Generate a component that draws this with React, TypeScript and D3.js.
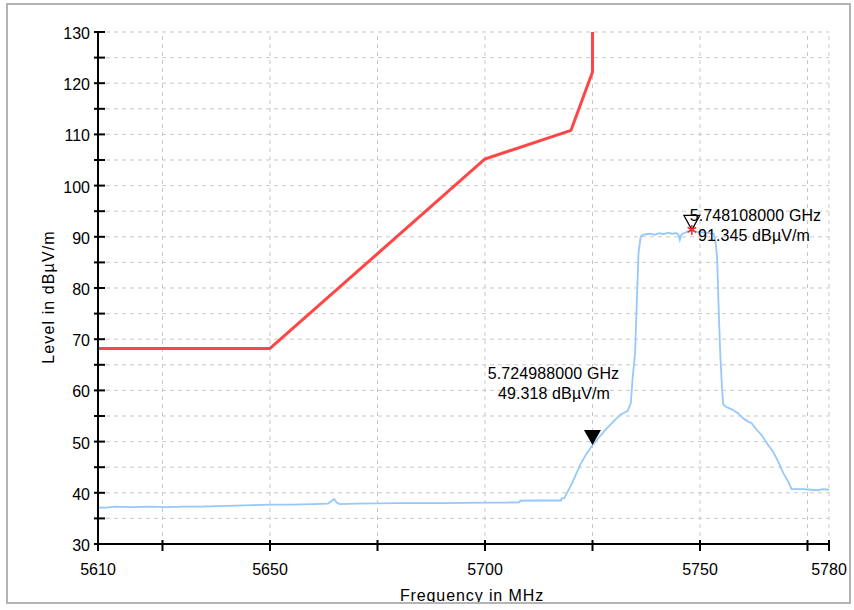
import React from 'react';
import * as d3 from 'd3';

const xTicks = [5610, 5625, 5650, 5675, 5700, 5725, 5750, 5775, 5780];
const xTickLabels = [5610, 5650, 5700, 5750, 5780];
const yTicks = [30, 35, 40, 45, 50, 55, 60, 65, 70, 75, 80, 85, 90, 95, 100, 105, 110, 115, 120, 125, 130];
const yTickLabels = [30, 40, 50, 60, 70, 80, 90, 100, 110, 120, 130];

const limitFreq = [5610, 5650, 5700, 5720, 5725, 5725];
const limitLevel = [68.2, 68.2, 105.2, 110.8, 122.2, 130];

const traceFreq = [
  5610, 5612, 5614, 5618, 5622, 5626, 5630, 5634, 5638, 5642, 5646, 5650, 5655, 5660,
  5663.5, 5664.3, 5664.9, 5665.5, 5666.2, 5670, 5675, 5680, 5685, 5690, 5695, 5700, 5705,
  5708, 5708.2, 5712, 5715, 5717.7, 5717.8, 5718.4, 5720.2, 5722.1, 5723.5, 5724.99, 5726.5,
  5728, 5729.5, 5731.4, 5733.2, 5733.9, 5734.3, 5734.9, 5735.3, 5735.7, 5736.2, 5736.7,
  5737.5, 5738.5, 5739.5, 5740.5, 5741.5, 5742.5, 5743.5, 5744.5, 5745.0, 5745.3, 5745.7,
  5746.5, 5747.3, 5748.1, 5749, 5750, 5751, 5752, 5753.2, 5753.7, 5754.0, 5754.3, 5754.7,
  5755.1, 5755.4, 5756, 5757.4, 5758.9, 5760.1, 5761, 5762, 5763.2, 5764.3, 5765.9, 5767,
  5768.2, 5769.4, 5770.5, 5771.3, 5774, 5776, 5777.5, 5778.5, 5780,
];
const traceLevel = [
  37.1, 37.1, 37.3, 37.2, 37.3, 37.2, 37.3, 37.3, 37.4, 37.5, 37.6, 37.7, 37.7, 37.8,
  37.9, 38.4, 38.8, 38.1, 37.8, 37.9, 37.95, 38.0, 38.0, 38.0, 38.05, 38.1, 38.1,
  38.15, 38.45, 38.5, 38.5, 38.5, 38.9, 38.9, 41.8, 45.4, 47.5, 49.3, 50.8,
  52.3, 53.6, 55.2, 56.0, 57.5, 62, 67.3, 77, 86.8, 90.0, 90.4,
  90.5, 90.6, 90.4, 90.7, 90.5, 90.8, 90.6, 90.7, 90.4, 89.4, 90.5,
  90.8, 91.1, 91.35, 91.0, 90.8, 90.9, 90.7, 90.6, 88.5, 85.5, 77, 67.3,
  60.7, 57.3, 56.8, 56.3, 55.5, 54.5, 54.0, 53.6, 52.3, 51.3, 49.3, 48.0,
  46.1, 43.8, 42.2, 40.7, 40.7, 40.6, 40.5, 40.7, 40.6,
];

const markerFreq = [5724.988, 5748.108];
const markerLevel = [49.318, 91.345];
const markerLine1 = ['5.724988000 GHz', '5.748108000 GHz'];
const markerLine2 = ['49.318 dBµV/m', '91.345 dBµV/m'];

export default function App() {
  const W = 854;
  const H = 610;
  const x = d3.scaleLinear().domain([5610, 5780]).range([98, 829]);
  const y = d3.scaleLinear().domain([30, 130]).range([544, 32]);

  const line = d3
    .line<[number, number]>()
    .x((d) => x(d[0]))
    .y((d) => y(d[1]));

  const limitPath = line(limitFreq.map((f, i) => [f, limitLevel[i]]) as [number, number][]) || '';
  const tracePath = line(traceFreq.map((f, i) => [f, traceLevel[i]]) as [number, number][]) || '';
  const asterisk = d3.symbol(d3.symbolAsterisk, 70)() || '';

  const font = '"Liberation Sans", Arial, Helvetica, sans-serif';
  const [x0, x1] = x.range();
  const [y0, y1] = y.range();

  const m1x = x(markerFreq[0]);
  const m1y = y(markerLevel[0]);
  const m2x = x(markerFreq[1]);
  const m2y = y(markerLevel[1]);

  return (
    <svg
      width={W}
      height={H}
      style={{ position: 'absolute', left: 0, top: 0, display: 'block' }}
      fontFamily={font}
    >
      <rect x={0} y={0} width={W} height={H} fill="#ffffff" />
      <defs>
        <clipPath id="plot">
          <rect x={x0} y={y1 - 1} width={x1 - x0} height={y0 - y1 + 1} />
        </clipPath>
      </defs>
      {/* grid */}
      <g stroke="#c8c8c8" strokeWidth={1} strokeDasharray="4,4" fill="none">
        {xTicks.map((t) => (
          <line key={'gx' + t} x1={x(t)} x2={x(t)} y1={y0} y2={y1} />
        ))}
        {yTicks.map((t) => (
          <line key={'gy' + t} x1={x0} x2={x1} y1={y(t)} y2={y(t)} />
        ))}
      </g>
      {/* data */}
      <g clipPath="url(#plot)">
        <path d={tracePath} fill="none" stroke="#96c8fa" strokeWidth={1.8} />
        <path d={limitPath} fill="none" stroke="#ff4646" strokeWidth={3} strokeLinejoin="round" />
      </g>
      {/* axes */}
      <g stroke="#000" strokeWidth={2}>
        <line x1={x0} x2={x0} y1={y1} y2={y0 + 1} />
        <line x1={x0 - 1} x2={x1} y1={y0} y2={y0} />
        {yTicks.map((t) => (
          <line key={'ty' + t} x1={x0 - 4} x2={x0 + 7} y1={y(t)} y2={y(t)} />
        ))}
        {xTicks.map((t) => (
          <line key={'tx' + t} x1={x(t)} x2={x(t)} y1={y0 - 4} y2={y0 + 7} />
        ))}
      </g>
      <g fontSize={16} fill="#000">
        {yTickLabels.map((t) => (
          <text key={'ly' + t} x={x0 - 8} y={y(t) + 7} textAnchor="end">
            {t}
          </text>
        ))}
        {xTickLabels.map((t) => (
          <text key={'lx' + t} x={x(t)} y={575} textAnchor="middle">
            {t}
          </text>
        ))}
      </g>
      {/* axis titles */}
      <text
        x={472}
        y={601}
        textAnchor="middle"
        fontSize={16}
        letterSpacing={0.9}
        fill="#000"
      >
        Frequency in MHz
      </text>
      <text
        transform={`translate(53.5,297) rotate(-90)`}
        textAnchor="middle"
        fontSize={16}
        letterSpacing={1.1}
        fill="#000"
      >
        Level in dBµV/m
      </text>
      {/* markers */}
      <path
        d={`M${m1x},${m1y} L${m1x - 8.5},${m1y - 15} L${m1x + 8.5},${m1y - 15} Z`}
        fill="#000"
      />
      <path
        d={`M${m2x},${m2y} L${m2x - 8},${m2y - 14.5} L${m2x + 8},${m2y - 14.5} Z`}
        fill="none"
        stroke="#000"
        strokeWidth={1.2}
      />
      <path
        d={asterisk}
        transform={`translate(${m2x},${m2y})`}
        fill="none"
        stroke="#ff2020"
        strokeWidth={1.5}
      />
      <g fontSize={16} fill="#000" letterSpacing={0.1} textAnchor="middle">
        <text x={553.5} y={379}>{markerLine1[0]}</text>
        <text x={554} y={399}>{markerLine2[0]}</text>
        <text x={755.5} y={221}>{markerLine1[1]}</text>
        <text x={754} y={241}>{markerLine2[1]}</text>
      </g>
      {/* frame */}
      <rect x={7} y={4} width={843} height={599} fill="none" stroke="#b4b4b4" strokeWidth={2} />
    </svg>
  );
}
